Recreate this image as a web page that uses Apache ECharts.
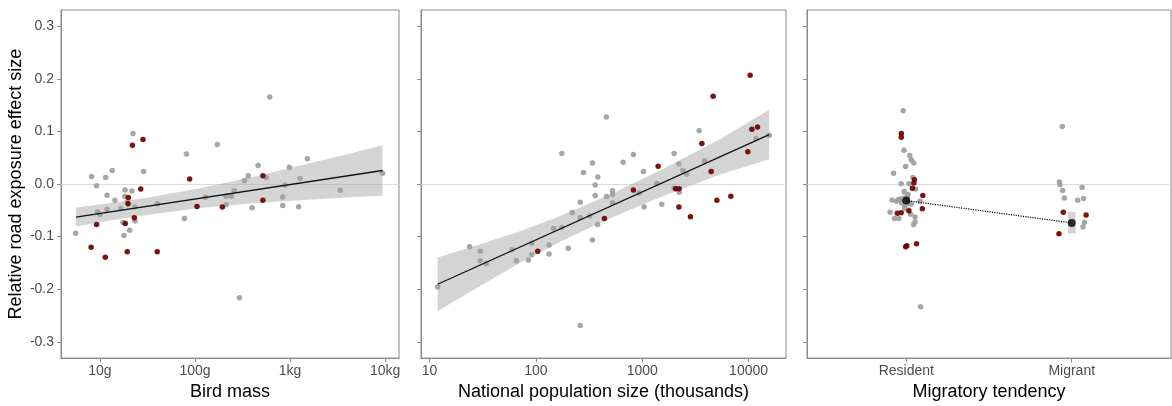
<!DOCTYPE html>
<html>
<head>
<meta charset="utf-8">
<title>Road exposure effect size</title>
<script src="https://cdn.jsdelivr.net/npm/echarts@6/dist/echarts.min.js"></script>
<style>
  html, body { margin: 0; padding: 0; background: #fff; }
  #chart { width: 1172px; height: 406px; }
</style>
</head>
<body>
<div id="chart"></div>
<script>
// ---- panel 1: bird mass (g) ----
const massTicks = [10, 100, 1000, 10000];
const massTickLabels = ["10g", "100g", "1kg", "10kg"];
const massGrey = [8.18, 9.23, 11.5, 13.5, 22.3, 18.4, 21.7, 28.8, 81.3, 172, 612, 462, 363, 332, 561, 986, 1524, 1277, 885, 3381, 9400, 11.9, 14.4, 9.46, 10, 11.9, 18.3, 19.5, 16.6, 23.3, 40.3, 17.5, 23.4, 20.6, 17.9, 5.56, 77.5, 129, 213, 213, 241, 259, 400, 294, 838, 838, 1233];
const effMassGrey = [0.0145, -0.0032, 0.0126, 0.0258, 0.0959, -0.0113, -0.0132, 0.0239, 0.057, 0.0752, 0.1655, 0.0352, 0.0156, 0.0066, 0.0126, 0.032, 0.0483, 0.0107, -0.0019, -0.0118, 0.0207, -0.0213, -0.0307, -0.0532, -0.0577, -0.0483, -0.0239, -0.0339, -0.0465, -0.0438, -0.0376, -0.0733, -0.0702, -0.0878, -0.0978, -0.0935, -0.0653, -0.025, -0.0231, -0.0395, -0.0231, -0.0126, -0.0451, -0.2163, -0.0245, -0.0408, -0.0433];
const massRed = [22.0, 28.4, 87.9, 26.9, 518, 9.23, 8.09, 11.4, 19.4, 40.1, 19.8, 23.0, 18.5, 105, 194, 518, 19.9];
const effMassRed = [0.0739, 0.0846, 0.0094, -0.0094, 0.0156, -0.0771, -0.1204, -0.1392, -0.1288, -0.1288, -0.0376, -0.0643, -0.0752, -0.0427, -0.0438, -0.0307, -0.0254];
const massFitX = [5.6, 9400];
const massFitY = [-0.0627, 0.0258];
const massBandX = [5.6, 12.7, 33.5, 112, 375, 1256, 4200, 9400];
const massBandLow = [-0.0805, -0.0694, -0.0577, -0.0457, -0.0371, -0.031, -0.0252, -0.0224];
const massBandHigh = [-0.0448, -0.0363, -0.025, -0.0081, 0.0118, 0.0348, 0.0576, 0.0739];

// ---- panel 2: national population (thousands) ----
const popTicks = [10, 100, 1000, 10000];
const popGrey = [460, 175, 340, 280, 382, 361, 661, 826, 1026, 1995, 2210, 2410, 2616, 3430, 3846, 1372, 1995, 2224, 11720, 15630, 525, 361, 462, 525, 525, 261, 220, 261, 320, 380, 340, 201, 147, 175, 133, 133, 91.2, 91.5, 85, 65.6, 59.7, 34, 29.9, 29.9, 23.8, 11.9, 261, 935, 1042, 1528];
const effPopGrey = [0.1273, 0.0583, 0.0401, 0.022, 0.0132, -0.0019, 0.0414, 0.0564, 0.0239, 0.0583, 0.0382, 0.0258, 0.0188, 0.1016, 0.0442, 0.0009, -0.0075, -0.0156, 0.0865, 0.0927, -0.0126, -0.022, -0.0235, -0.0201, -0.0357, -0.0344, -0.0542, -0.0634, -0.0602, -0.0771, -0.1066, -0.1222, -0.0846, -0.0828, -0.116, -0.1332, -0.1128, -0.1345, -0.1443, -0.1461, -0.1251, -0.151, -0.1279, -0.1458, -0.1191, -0.1956, -0.2689, -0.0169, -0.0438, -0.0382];
const popRed = [10350, 4645, 10740, 12130, 3640, 9840, 1412, 4448, 826, 2061, 2224, 6810, 5035, 2210, 2840, 441, 104];
const effPopRed = [0.2069, 0.1668, 0.104, 0.1087, 0.0771, 0.0615, 0.0339, 0.0239, -0.0113, -0.0088, -0.0088, -0.0231, -0.031, -0.0438, -0.0621, -0.0653, -0.1279];
const popFitX = [11.9, 15630];
const popFitY = [-0.1905, 0.094];
const popBandX = [11.9, 29.9, 71, 169, 499, 1472, 5408, 15630];
const popBandLow = [-0.2413, -0.1937, -0.1499, -0.1098, -0.0651, -0.025, 0.0181, 0.047];
const popBandHigh = [-0.1397, -0.1147, -0.0897, -0.0609, -0.0199, 0.0258, 0.0858, 0.1411];

// ---- panel 3: migratory tendency (1 = Resident, 2 = Migrant, jittered) ----
const migLabels = ["Resident", "Migrant"];
const migGreyX = [0.981, 0.986, 1.021, 1.031, 1.046, 0.996, 0.923, 1.04, 0.969, 1.016, 1.056, 0.987, 1.01, 0.914, 0.94, 0.96, 0.972, 1.03, 1.083, 0.902, 0.929, 0.955, 0.99, 1.026, 1.053, 1.053, 1.044, 1.086, 0.975, 1.005, 1.012, 0.99, 0.955,
  1.943, 1.926, 1.929, 1.945, 1.956, 2.063, 2.036, 2.072, 2.077, 2.068];
const effMigGrey = [0.1396, 0.0643, 0.0545, 0.0457, 0.0399, 0.0335, 0.0207, 0.0126, 0.0004, 0.0004, -0.0094, -0.0141, -0.0201, -0.0301, -0.0325, -0.031, -0.0357, -0.038, -0.0329, -0.0536, -0.0653, -0.0653, -0.0465, -0.0574, -0.0626, -0.0724, -0.0771, -0.2332, -0.028, -0.026, -0.036, -0.041, -0.029,
  0.1096, 0.0038, -0.0013, -0.0122, -0.0267, -0.0066, -0.0307, -0.0276, -0.073, -0.0818];
const migRedX = [0.97, 0.97, 1.049, 1.046, 1.037, 1.1, 1.097, 1.016, 0.946, 0.969, 0.996, 1.003, 1.062, 1.949, 2.087, 1.923];
const effMigRed = [0.0959, 0.089, 0.0081, 0.0019, -0.0081, -0.022, -0.047, -0.0508, -0.0555, -0.0545, -0.1194, -0.1172, -0.1134, -0.0536, -0.0589, -0.0944];
const groupX = [1, 2];
const groupMean = [-0.0314, -0.0739];
const groupLow = [-0.047, -0.094];
const groupHigh = [-0.017, -0.0527];

const effTicks = [-0.3, -0.2, -0.1, 0, 0.1, 0.2, 0.3];

const FONT = "'Liberation Sans', Arial, sans-serif";
const GREY_PT = "#9e9e9e";
const RED_PT = "#700000";
const BAND = "rgba(153,153,153,0.42)";
const FRAME = "#8a8a8a";

const zip = (xs, ys) => xs.map((x, i) => [x, ys[i]]);

const grids = [
  { left: 61, top: 10, width: 338, height: 352 },
  { left: 421, top: 10, width: 365, height: 352 },
  { left: 807, top: 10, width: 364, height: 352 },
].map((g) => ({ ...g, show: true, borderColor: FRAME, borderWidth: 1, backgroundColor: "#fff" }));

function xAxisBase(i, name) {
  return {
    gridIndex: i,
    name: name,
    nameLocation: "middle",
    nameGap: 21,
    nameTextStyle: { color: "#000", fontSize: 18, fontFamily: FONT },
    axisLine: { show: true, onZero: false, lineStyle: { color: FRAME, width: 1 } },
    axisTick: { show: true, length: 4, lineStyle: { color: FRAME } },
    axisLabel: { color: "#4d4d4d", fontSize: 14, fontFamily: FONT, margin: 6 },
    splitLine: { show: false },
  };
}

function yAxisBase(i) {
  return {
    gridIndex: i,
    type: "value",
    min: -0.331,
    max: 0.331,
    axisLine: { show: true, onZero: false, lineStyle: { color: FRAME, width: 1 } },
    axisTick: { show: true, length: 4, customValues: effTicks, lineStyle: { color: FRAME } },
    axisLabel: {
      show: i === 0,
      customValues: effTicks,
      color: "#4d4d4d",
      fontSize: 14,
      fontFamily: FONT,
      margin: 7,
      formatter: (v) => v.toFixed(1),
    },
    splitLine: { show: false },
  };
}

const xAxes = [
  Object.assign(xAxisBase(0, "Bird mass"), { type: "log", logBase: 10, min: 3.9, max: 14000 }),
  Object.assign(xAxisBase(1, "National population size (thousands)"), { type: "log", logBase: 10, min: 8.3, max: 22500 }),
  Object.assign(xAxisBase(2, "Migratory tendency"), { type: "value", min: 0.4, max: 2.6 }),
];
xAxes[0].axisLabel.customValues = massTicks;
xAxes[0].axisTick.customValues = massTicks;
xAxes[0].axisLabel.formatter = (v) => massTickLabels[Math.round(Math.log10(v)) - 1];
xAxes[1].axisLabel.customValues = popTicks;
xAxes[1].axisTick.customValues = popTicks;
xAxes[1].axisLabel.formatter = (v) => String(Math.round(v));
xAxes[2].axisLabel.customValues = groupX;
xAxes[2].axisTick.customValues = groupX;
xAxes[2].axisLabel.formatter = (v) => migLabels[Math.round(v) - 1];

const yAxes = [0, 1, 2].map(yAxisBase);
yAxes[0].name = "Relative road exposure effect size";
yAxes[0].nameLocation = "middle";
yAxes[0].nameRotate = 90;
yAxes[0].nameGap = 36;
yAxes[0].nameTextStyle = { color: "#000", fontSize: 18, fontFamily: FONT };

const zeroLine = {
  silent: true,
  symbol: "none",
  z: 1,
  label: { show: false },
  lineStyle: { color: "#dcdcdc", width: 1.2, type: "solid" },
  data: [{ yAxis: 0 }],
};

// confidence ribbon: one polygon through the band edges, drawn on the first item
function bandSeries(i, xs, lo, hi) {
  return {
    type: "custom",
    xAxisIndex: i,
    yAxisIndex: i,
    encode: { x: 0, y: [1, 2] },
    data: xs.map((x, k) => [x, lo[k], hi[k]]),
    renderItem: function (params, api) {
      if (params.dataIndex !== 0) return;
      const upper = xs.map((x, k) => api.coord([x, hi[k]]));
      const lower = xs.map((x, k) => api.coord([x, lo[k]])).reverse();
      return {
        type: "polygon",
        shape: { points: upper.concat(lower) },
        style: { fill: BAND },
      };
    },
    markLine: zeroLine,
    z: 1,
  };
}

function dots(i, xs, ys, color) {
  return {
    type: "scatter",
    xAxisIndex: i,
    yAxisIndex: i,
    symbolSize: 5.5,
    itemStyle: { color: color, opacity: 0.92 },
    data: zip(xs, ys),
    z: 2,
  };
}

function fitLine(i, xs, ys) {
  return {
    type: "line",
    xAxisIndex: i,
    yAxisIndex: i,
    symbol: "none",
    lineStyle: { color: "#111", width: 1.3 },
    data: zip(xs, ys),
    z: 3,
  };
}

const series = [
  bandSeries(0, massBandX, massBandLow, massBandHigh),
  dots(0, massGrey, effMassGrey, GREY_PT),
  dots(0, massRed, effMassRed, RED_PT),
  fitLine(0, massFitX, massFitY),

  bandSeries(1, popBandX, popBandLow, popBandHigh),
  dots(1, popGrey, effPopGrey, GREY_PT),
  dots(1, popRed, effPopRed, RED_PT),
  fitLine(1, popFitX, popFitY),

  {
    type: "custom",
    xAxisIndex: 2,
    yAxisIndex: 2,
    encode: { x: 0, y: [1, 2] },
    data: groupX.map((x, k) => [x, groupLow[k], groupHigh[k]]),
    renderItem: function (params, api) {
      const x = api.value(0);
      const p1 = api.coord([x - 0.024, api.value(2)]);
      const p2 = api.coord([x + 0.024, api.value(1)]);
      return {
        type: "rect",
        shape: { x: p1[0], y: p1[1], width: p2[0] - p1[0], height: p2[1] - p1[1] },
        style: { fill: BAND },
      };
    },
    markLine: zeroLine,
    z: 1,
  },
  dots(2, migGreyX, effMigGrey, GREY_PT),
  dots(2, migRedX, effMigRed, RED_PT),
  {
    type: "line",
    xAxisIndex: 2,
    yAxisIndex: 2,
    symbol: "none",
    lineStyle: { color: "#000", width: 1.2, type: "dotted" },
    data: zip(groupX, groupMean),
    z: 3,
  },
  {
    type: "scatter",
    xAxisIndex: 2,
    yAxisIndex: 2,
    symbolSize: 8,
    itemStyle: { color: "#000" },
    data: zip(groupX, groupMean),
    z: 4,
  },
];

const chart = echarts.init(document.getElementById("chart"), null, { renderer: "canvas" });
chart.setOption({
  animation: false,
  backgroundColor: "#fff",
  grid: grids,
  xAxis: xAxes,
  yAxis: yAxes,
  series: series,
});
window.addEventListener("resize", () => chart.resize());
</script>
</body>
</html>
